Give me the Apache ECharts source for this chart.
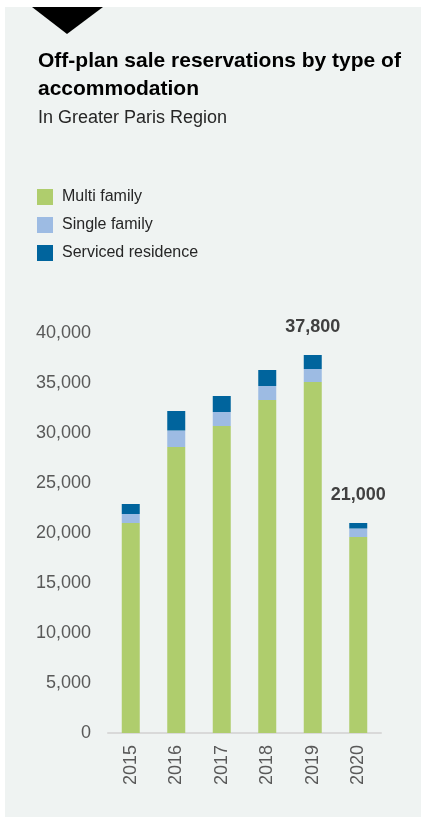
<!DOCTYPE html>
<html>
<head>
<meta charset="utf-8">
<script src="https://cdn.jsdelivr.net/npm/echarts@6/dist/echarts.min.js"></script>
<style>
  html, body { margin: 0; padding: 0; background: #ffffff; }
  #chart { width: 425px; height: 822px; }
</style>
</head>
<body>
<div id="chart"></div>
<script>
// Off-plan sale reservations, Greater Paris Region, by accommodation type
const years = ['2015', '2016', '2017', '2018', '2019', '2020'];
const multiFamily = [21000, 28600, 30700, 33300, 35100, 19600];
const singleFamily = [900, 1650, 1400, 1400, 1300, 850];
const servicedResidence = [1000, 1950, 1600, 1600, 1400, 550];
const yTicks = [0, 5000, 10000, 15000, 20000, 25000, 30000, 35000, 40000];
// years whose total is printed above the bar
const labelledYears = ['2019', '2020'];

const fmt = v => v.toLocaleString('en-US');
const totalAt = i => multiFamily[i] + singleFamily[i] + servicedResidence[i];

const chart = echarts.init(document.getElementById('chart'), null, { renderer: 'canvas' });

const option = {
  backgroundColor: '#ffffff',
  animation: false,
  textStyle: { fontFamily: 'Liberation Sans, Arial, sans-serif' },
  graphic: [
    { type: 'rect', z: -10, shape: { x: 5, y: 7, width: 416, height: 810 }, style: { fill: '#eff3f2' } },
    { type: 'polygon', z: -5, shape: { points: [[32, 7], [103, 7], [67, 34]] }, style: { fill: '#000000' } }
  ],
  title: {
    text: 'Off-plan sale reservations by type of\naccommodation',
    subtext: 'In Greater Paris Region',
    left: 38,
    top: 47,
    padding: 0,
    itemGap: 4,
    textStyle: { fontSize: 21, fontWeight: 'bold', color: '#000000', lineHeight: 28, fontFamily: 'Liberation Sans' },
    subtextStyle: { fontSize: 18, color: '#262626', lineHeight: 22, fontFamily: 'Liberation Sans' }
  },
  legend: {
    orient: 'vertical',
    left: 37,
    top: 189,
    padding: 0,
    itemWidth: 16,
    itemHeight: 16,
    itemGap: 12,
    icon: 'rect',
    textStyle: { fontSize: 16, color: '#262626', padding: [0, 0, 0, 4], fontFamily: 'Liberation Sans' },
    data: ['Multi family', 'Single family', 'Serviced residence']
  },
  grid: { left: 108, right: 44, top: 333, bottom: 89, containLabel: false },
  xAxis: {
    type: 'category',
    data: years,
    axisLine: { show: true, lineStyle: { color: '#d9d9d9', width: 2 } },
    axisTick: { show: false },
    axisLabel: { rotate: 90, margin: 12, fontSize: 18, color: '#595959', fontFamily: 'Liberation Sans' }
  },
  yAxis: {
    type: 'value',
    min: yTicks[0],
    max: yTicks[yTicks.length - 1],
    interval: yTicks[1] - yTicks[0],
    splitLine: { show: false },
    axisLine: { show: false },
    axisTick: { show: false },
    axisLabel: { fontSize: 18, color: '#595959', margin: 17, formatter: v => fmt(v), fontFamily: 'Liberation Sans' }
  },
  series: [
    {
      name: 'Multi family', type: 'bar', stack: 'total', barWidth: 18,
      itemStyle: { color: '#afcd6d' },
      data: multiFamily
    },
    {
      name: 'Single family', type: 'bar', stack: 'total', barWidth: 18,
      itemStyle: { color: '#9dbbe3' },
      data: singleFamily
    },
    {
      name: 'Serviced residence', type: 'bar', stack: 'total', barWidth: 18,
      itemStyle: { color: '#00649d' },
      data: servicedResidence.map((v, i) => ({
        value: v,
        label: {
          show: labelledYears.includes(years[i]),
          position: 'top',
          distance: 19,
          fontSize: 18,
          fontWeight: 'bold',
          color: '#404040',
          fontFamily: 'Liberation Sans',
          formatter: () => fmt(totalAt(i))
        }
      }))
    }
  ]
};

chart.setOption(option);
</script>
</body>
</html>
